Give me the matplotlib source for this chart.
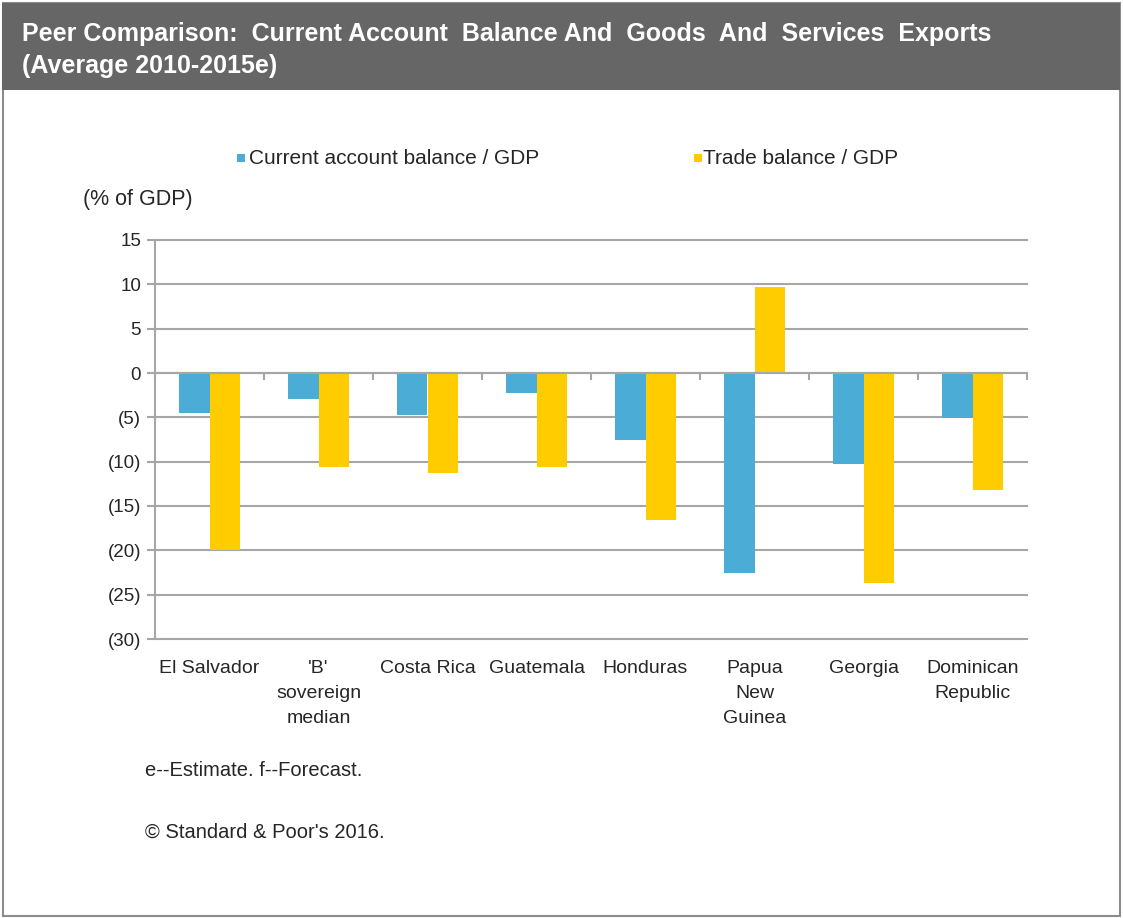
import matplotlib
matplotlib.use("Agg")
import matplotlib.pyplot as plt
from matplotlib.patches import Rectangle
import numpy as np

plt.rcParams['font.family'] = ['Liberation Sans', 'DejaVu Sans']

categories = ["El Salvador", "'B'\nsovereign\nmedian", "Costa Rica", "Guatemala",
              "Honduras", "Papua\nNew\nGuinea", "Georgia", "Dominican\nRepublic"]
current_account = [-4.5, -2.9, -4.7, -2.3, -7.6, -22.5, -10.3, -5.1]
trade_balance = [-20.0, -10.6, -11.3, -10.6, -16.6, 9.7, -23.7, -13.2]
y_ticks = [15, 10, 5, 0, -5, -10, -15, -20, -25, -30]

BLUE = "#4BACD6"
GOLD = "#FFCC00"
GRID = "#A6A6A6"
TEXT = "#262626"

W, H = 1123, 918
fig = plt.figure(figsize=(W / 100, H / 100), dpi=100)


def fx(x):
    return x / W


def fy(y):
    return 1 - y / H


# outer frame and title band
fig.patches.append(Rectangle((fx(3), fy(916)), fx(1117), 913 / H, transform=fig.transFigure,
                             facecolor="white", edgecolor="#8C8C8C", lw=1.5, zorder=-2))
fig.patches.append(Rectangle((fx(2), fy(90)), fx(1118), 87 / H, transform=fig.transFigure,
                             facecolor="#666666", edgecolor="none", zorder=-1))
fig.text(fx(22), fy(34), "Peer Comparison:  Current Account  Balance And  Goods  And  Services  Exports",
         color="white", fontsize=18, fontweight="bold", va="center", ha="left")
fig.text(fx(22), fy(66), "(Average 2010-2015e)",
         color="white", fontsize=18, fontweight="bold", va="center", ha="left")

# legend
fig.patches.append(Rectangle((fx(237), fy(162)), fx(8), 8 / H, transform=fig.transFigure,
                             facecolor=BLUE, edgecolor="none"))
fig.text(fx(249), fy(159), "Current account balance / GDP", color=TEXT, fontsize=15, va="center")
fig.patches.append(Rectangle((fx(694), fy(162)), fx(8), 8 / H, transform=fig.transFigure,
                             facecolor=GOLD, edgecolor="none"))
fig.text(fx(703), fy(159), "Trade balance / GDP", color=TEXT, fontsize=15, va="center")

fig.text(fx(83), fy(199), "(% of GDP)", color=TEXT, fontsize=15.5, va="center")

ax = fig.add_axes([fx(155), fy(639), 872 / W, 399 / H])
ax.set_zorder(2)
ax.patch.set_alpha(0)
x = np.arange(len(categories))
bw = 0.28
ax.bar(x - bw / 2, current_account, bw, color=BLUE, zorder=2)
ax.bar(x + bw / 2, trade_balance, bw, color=GOLD, zorder=2)

ax.set_xlim(-0.5, len(categories) - 0.5)
ax.set_ylim(-30, 15)
ax.set_yticks(y_ticks)
ax.set_yticklabels([str(v) if v >= 0 else "(%d)" % -v for v in y_ticks])
for v in y_ticks:
    ax.axhline(v, color=GRID, lw=1.5, zorder=1, clip_on=False)
ax.axhline(0, color=GRID, lw=1.5, zorder=3)

# category separators along the zero line
for b in np.arange(-0.5, len(categories), 1.0):
    ax.plot([b, b], [0, -0.7], color=GRID, lw=1.5, zorder=3, clip_on=False)

ax.set_xticks([])
for i, lab in enumerate(categories):
    ax.text(i, -32.4, lab, ha="center", va="top", fontsize=14, color=TEXT,
            linespacing=1.6)

for s in ["top", "right", "bottom"]:
    ax.spines[s].set_visible(False)
ax.spines["left"].set_color(GRID)
ax.spines["left"].set_linewidth(1.5)
ax.tick_params(axis="y", length=6, width=1.5, color=GRID, labelsize=13.5,
               labelcolor=TEXT, pad=4)

fig.text(fx(145), fy(771), "e--Estimate. f--Forecast.", color=TEXT, fontsize=14.5, va="center")
fig.text(fx(145), fy(832), "\u00a9 Standard & Poor's 2016.", color=TEXT, fontsize=14.5, va="center")

fig.savefig("out.png", dpi=100)
